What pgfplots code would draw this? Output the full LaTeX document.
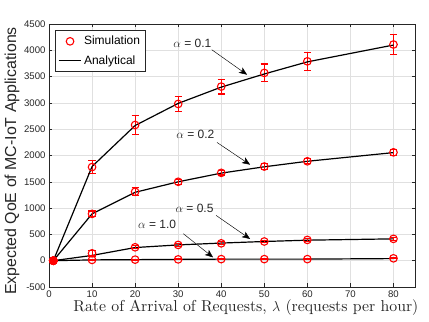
\documentclass[border=0pt]{standalone}
\usepackage{fontspec}
\setsansfont{Liberation Sans}
\newfontfamily\cmrten{lmroman10-regular.otf}
\usepackage{pgfplots}
\pgfplotsset{compat=1.18}
\usetikzlibrary{arrows.meta}
\definecolor{axgray}{rgb}{0.15,0.15,0.15}
\definecolor{gridgray}{rgb}{0.88,0.88,0.88}

% simulation: x, mean, error
\pgfplotstableread{
x y e
1 0 0
10 1780 120
20 2580 180
30 2980 140
40 3310 140
50 3570 170
60 3790 170
80 4110 185
}\simA
\pgfplotstableread{
x y e
1 0 0
10 890 55
20 1310 75
30 1500 50
40 1670 40
50 1790 50
60 1890 50
80 2060 60
}\simB
\pgfplotstableread{
x y e
1 0 0
10 140 50
20 255 30
30 300 30
40 330 30
50 365 25
60 395 25
80 415 25
}\simC
\pgfplotstableread{
x y e
1 0 0
10 15 10
20 20 10
30 25 10
40 30 10
50 30 10
60 30 10
80 45 10
}\simD

\begin{document}
\begin{tikzpicture}
\begin{axis}[
  scale only axis, width=366pt, height=263pt,
  xmin=0, xmax=85, ymin=-500, ymax=4500,
  xtick={0,10,...,80}, ytick={-500,0,...,4500},
  scaled y ticks=false,
  grid=major, major grid style={gridgray, line width=0.4pt},
  axis line style={axgray, line width=0.5pt},
  tick style={axgray, line width=0.5pt}, tick align=inside,
  major tick length=3.5pt,
  ticklabel style={font=\sffamily\fontsize{9.6}{11}\selectfont, text=axgray},
  /pgf/number format/assume math mode=true,
  /pgf/number format/set thousands separator={},
  xlabel={Rate of Arrival of Requests, $\lambda$ (requests per hour)},
  xlabel style={font=\cmrten\fontsize{15.8}{18}\selectfont, text=axgray,
    at={(axis description cs:0.538,0)}, anchor=base, yshift=-25pt},
  ylabel={Expected QoE of MC-IoT Applications},
  ylabel style={font=\sffamily\fontsize{15.9}{18}\selectfont, text=axgray,
    at={(axis description cs:-0.101,0.479)}, anchor=center},
  legend style={at={(0.016,0.977)}, anchor=north west, draw=axgray,
    font=\sffamily\fontsize{12}{14}\selectfont, cells={anchor=west},
    row sep=5pt, inner xsep=3pt, inner ysep=4pt},
  legend cell align=left,
  sim/.style={red, line width=1.1pt, only marks, mark=o, mark size=3.8pt,
    legend image code/.code={\draw[##1, only marks] plot coordinates {(0.4cm,0cm)};},
    error bars/.cd, y dir=both, y explicit,
    error bar style={red, line width=1.1pt},
    error mark options={red, line width=1.1pt, mark size=3.6pt, rotate=90},
    /pgfplots/.cd},
  ana/.style={black, line width=1.2pt, no marks,
    legend image code/.code={\draw[##1] (0cm,0cm) -- (0.8cm,0cm);}},
]
\addplot[sim] table[x=x, y=y, y error=e] {\simA};
\addlegendentry{Simulation}
\addplot[ana] coordinates {(1,0) (10,1790) (20,2570) (30,2990) (40,3300) (50,3550) (60,3780) (80,4100)};
\addlegendentry{Analytical}
\addplot[ana, forget plot] coordinates {(1,0) (10,890) (20,1300) (30,1500) (40,1665) (50,1785) (60,1890) (80,2055)};
\addplot[ana, forget plot] coordinates {(1,0) (10,100) (20,250) (30,300) (40,335) (50,365) (60,390) (80,415)};
\addplot[ana, forget plot] coordinates {(1,0) (10,15) (20,20) (30,25) (40,30) (50,30) (60,30) (80,40)};
\addplot[forget plot, sim] table[x=x, y=y, y error=e] {\simB};
\addplot[forget plot, sim] table[x=x, y=y, y error=e] {\simC};
\addplot[forget plot, sim] table[x=x, y=y, y error=e] {\simD};
\addplot[red, only marks, mark=*, mark size=4.2pt, forget plot] coordinates {(1,0)};

\tikzset{lab/.style={font=\sffamily\fontsize{12}{14}\selectfont, text=axgray},
  arr/.style={-{Stealth[length=8pt,width=6.5pt,inset=2pt]}, line width=0.45pt, black}}
\node[lab] at (axis cs:33.3,4125) {$\alpha$ = 0.1};
\draw[arr] (axis cs:37.8,4011) -- (axis cs:46,3536);
\node[lab] at (axis cs:34,2395) {$\alpha$ = 0.2};
\draw[arr] (axis cs:39,2249) -- (axis cs:46.7,1825);
\node[lab] at (axis cs:33.8,988) {$\alpha$ = 0.5};
\draw[arr] (axis cs:38.8,861) -- (axis cs:46.7,413);
\node[lab] at (axis cs:25.1,684) {$\alpha$ = 1.0};
\draw[arr] (axis cs:31.2,513) -- (axis cs:38.1,63);
\end{axis}
\pgfresetboundingbox
\path[use as bounding box] ([xshift=-49pt,yshift=-35pt]current axis.south west) rectangle ([xshift=14pt,yshift=24pt]current axis.north east);
\end{tikzpicture}
\end{document}
